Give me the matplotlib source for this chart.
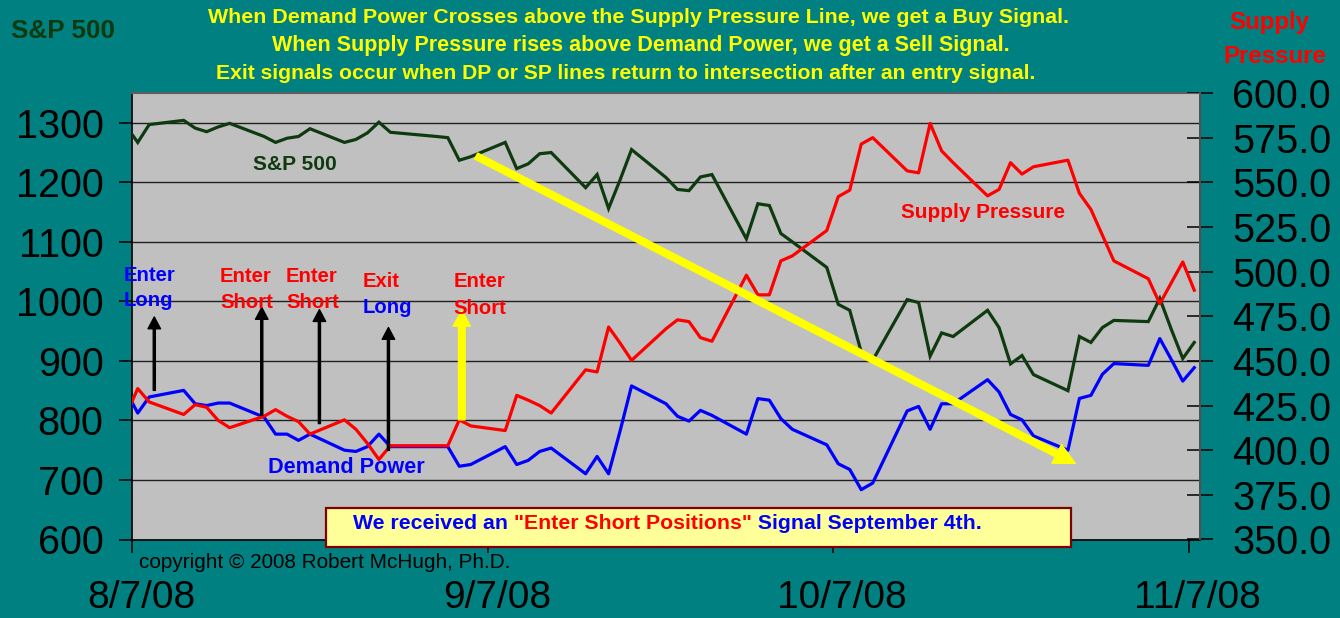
import matplotlib
matplotlib.use("Agg")
import matplotlib.pyplot as plt
import matplotlib.dates as mdates
import matplotlib.transforms as mtransforms
from matplotlib.patches import Rectangle
import pandas as pd

# ---------------- data ----------------
dates = [
    "2008-08-06", "2008-08-07", "2008-08-08", "2008-08-11", "2008-08-12", "2008-08-13",
    "2008-08-14", "2008-08-15", "2008-08-18", "2008-08-19", "2008-08-20", "2008-08-21",
    "2008-08-22", "2008-08-25", "2008-08-26", "2008-08-27", "2008-08-28", "2008-08-29",
    "2008-09-02", "2008-09-03", "2008-09-04", "2008-09-05", "2008-09-08", "2008-09-09",
    "2008-09-10", "2008-09-11", "2008-09-12", "2008-09-15", "2008-09-16", "2008-09-17",
    "2008-09-18", "2008-09-19", "2008-09-22", "2008-09-23", "2008-09-24", "2008-09-25",
    "2008-09-26", "2008-09-29", "2008-09-30",
    "2008-10-01", "2008-10-02", "2008-10-03", "2008-10-06", "2008-10-07", "2008-10-08",
    "2008-10-09", "2008-10-10", "2008-10-13", "2008-10-14", "2008-10-15", "2008-10-16",
    "2008-10-17", "2008-10-20", "2008-10-21", "2008-10-22", "2008-10-23", "2008-10-24",
    "2008-10-27", "2008-10-28", "2008-10-29", "2008-10-30", "2008-10-31",
    "2008-11-03", "2008-11-04", "2008-11-05", "2008-11-06", "2008-11-07",
]

sp500 = [
    1294, 1267, 1297, 1304, 1291, 1285, 1293, 1299, 1277, 1267, 1274, 1277, 1290, 1267,
    1272, 1283, 1301, 1284,
    1277, 1275, 1237, 1243, 1267, 1223, 1231, 1248, 1250, 1191, 1213, 1156, 1204, 1255,
    1208, 1188, 1186, 1209, 1213, 1105, 1164,
    1161, 1114, 1100, 1057, 995, 985, 915, 901, 1003, 998, 908, 947, 941, 985, 956, 895,
    909, 877, 850, 941, 931, 956, 968,
    966, 1005, 953, 904, 931,
]

supply_pressure = [
    420, 434.5, 427, 420, 425.5, 424, 416.7, 412.6, 419, 422.7, 419, 416, 409, 417,
    411.7, 403.8, 394.8, 402.5,
    402.5, 402.5, 417, 413.6, 411, 430.7, 428, 425, 420.8, 445, 443.8, 469, 460, 450.3,
    468, 473, 472, 463, 461, 498, 487,
    487, 506, 508.8, 523, 542, 545.6, 571.4, 575, 556.4, 555.3, 583, 567.6, 561, 542.4,
    546, 561, 554.6, 558.7, 562.4, 543.8, 534.8, 520.4, 506,
    496, 482, 493.7, 505.4, 489.6,
]

demand_power = [
    433, 420.8, 429.8, 433.5, 426, 425, 426.4, 426.4, 418.5, 409, 409, 405.5, 409, 400,
    399.3, 402, 409, 402,
    402, 402, 391, 392, 402, 392, 394.3, 399.3, 401.2, 386.8, 396.5, 386.8, 410.7, 436,
    426, 419, 416.3, 422.3, 419.5, 409, 428.9,
    428, 417.7, 411.7, 403, 392.4, 389.2, 377.9, 381.6, 422, 424.5, 411.7, 426, 426,
    439.5, 432.6, 420, 417, 408, 400, 429, 430.7, 442.5, 448.5,
    447.5, 462.5, 450.8, 438.7, 446.2,
]

date_ticks = ["2008-08-07", "2008-09-07", "2008-10-07", "2008-11-07"]
date_tick_labels = ["8/7/08", "9/7/08", "10/7/08", "11/7/08"]
sp_ticks = [600, 700, 800, 900, 1000, 1100, 1200, 1300]
pressure_ticks = [350, 375, 400, 425, 450, 475, 500, 525, 550, 575, 600]

# signal arrows: (days after 8/7/08, tail value, tip value) on the pressure scale
signal_arrows = [(1.94, 433.5, 474.6), (11.30, 419.5, 479.9),
                 (16.32, 414.9, 478.7), (22.33, 399.9, 468.7)]
sell_arrow = (28.72, 417.0, 478.4)
trend_arrow = ((29.97, 564.7), (82.14, 392.6))

# ---------------- style ----------------
FONT = "Liberation Sans"
plt.rcParams["font.family"] = [FONT, "DejaVu Sans"]
TEAL = "#008080"
GRAY = "#C0C0C0"
DKGREEN = "#0F3A0F"
RED = "#FF0000"
BLUE = "#0000FF"
YELLOW = "#FFFF00"

W, H = 1340, 618
fig = plt.figure(figsize=(W / 100, H / 100), dpi=100, facecolor=TEAL)
pix = mtransforms.Affine2D().scale(1, -1).translate(0, H)

x0p, x1p, y0p, y1p = 132, 1200, 539.5, 93
ax = fig.add_axes([x0p / W, (H - y0p) / H, (x1p - x0p) / W, (y0p - y1p) / H])
ax.set_facecolor(GRAY)
ax2 = ax.twinx()

base = mdates.date2num(pd.Timestamp("2008-08-07"))
xs = mdates.date2num(pd.to_datetime(dates)) + 0.5

ax.plot(xs, sp500, color=DKGREEN, lw=2.3, zorder=3, solid_joinstyle="miter")
ax2.plot(xs, demand_power, color=BLUE, lw=2.3, zorder=3)
ax2.plot(xs, supply_pressure, color=RED, lw=2.3, zorder=4)

ax.set_xlim(base, base + 93)
ax.set_ylim(600, 1350)
ax2.set_ylim(350, 600)

ax.set_yticks(sp_ticks)
ax.set_yticklabels([str(v) for v in sp_ticks])
ax2.set_yticks(pressure_ticks)
ax2.set_yticklabels([f"{v:.1f}" for v in pressure_ticks])
ax.set_xticks(mdates.date2num(pd.to_datetime(date_ticks)))
ax.set_xticklabels(date_tick_labels)

ax.yaxis.grid(True, color="#202020", lw=1.0)
ax.set_axisbelow(True)

ax.tick_params(axis="y", direction="out", length=9.5, width=1.1, pad=11,
               labelsize=28.5, colors="black")
ax.tick_params(axis="x", direction="out", length=9.5, width=1.1, pad=19.5,
               labelsize=28, colors="black")
ax2.tick_params(axis="y", direction="inout", length=18.5, width=1.1, pad=14,
                labelsize=28.5, colors="black")
for lbl in ax.get_xticklabels():
    lbl.set_transform(lbl.get_transform() +
                      mtransforms.ScaledTranslation(9 / 100, 0, fig.dpi_scale_trans))

for sp in ("left", "bottom"):
    ax.spines[sp].set_color("black")
    ax.spines[sp].set_linewidth(1.2)
for sp in ("top", "right"):
    ax.spines[sp].set_color("#606060")
    ax.spines[sp].set_linewidth(1.4)
ax2.spines["right"].set_color("#505050")
ax2.spines["right"].set_linewidth(1.4)
ax2.spines["top"].set_color("#606060")
ax2.spines["left"].set_visible(False)
ax2.spines["bottom"].set_visible(False)

# ---------------- arrows ----------------
for d, tail, tip in signal_arrows:
    ax2.annotate("", xy=(base + d, tip), xytext=(base + d, tail),
                 arrowprops=dict(width=1.5, headwidth=9, headlength=8.5,
                                 facecolor="black", edgecolor="black", shrink=0),
                 zorder=6)
d, tail, tip = sell_arrow
ax2.annotate("", xy=(base + d, tip), xytext=(base + d, tail),
             arrowprops=dict(width=4.8, headwidth=12.5, headlength=11.5,
                             facecolor=YELLOW, edgecolor=YELLOW, shrink=0),
             zorder=6)
(ta, va), (tb, vb) = trend_arrow
ax2.annotate("", xy=(base + tb, vb), xytext=(base + ta, va),
             arrowprops=dict(width=4.8, headwidth=15, headlength=15,
                             facecolor=YELLOW, edgecolor=YELLOW, shrink=0),
             zorder=7)

# ---------------- texts ----------------
fig.canvas.draw()
renderer = fig.canvas.get_renderer()


def put(s, x, baseline, color, width=None, size=None, weight="bold", z=12):
    t = fig.text(x, baseline, s, transform=pix, color=color,
                 fontsize=size if size else 10, fontweight=weight,
                 ha="left", va="baseline", zorder=z)
    if width is not None:
        w = t.get_window_extent(renderer).width
        t.set_fontsize(10 * width / w)
    return t


def fit_size(s, width, weight="bold"):
    t = fig.text(0, 0, s, fontsize=10, fontweight=weight)
    w = t.get_window_extent(renderer).width
    t.remove()
    return 10 * width / w


# title
put("When Demand Power Crosses above the Supply Pressure Line, we get a Buy Signal.",
    208, 23.3, YELLOW, width=858)
put("When Supply Pressure rises above Demand Power, we get a Sell Signal.",
    272, 51.2, YELLOW, width=740)
put("Exit signals occur when DP or SP lines return to intersection after an entry signal.",
    216, 79, YELLOW, width=824)

put("S&P 500", 10.7, 37.7, DKGREEN, width=104)
put("Supply", 1229.3, 29.5, RED, width=80)
put("Pressure", 1223.3, 63.3, RED, width=103)

put("copyright \u00a9 2008 Robert McHugh, Ph.D.", 139.3, 568, "black",
    width=373, weight="normal")

# series labels inside plot
put("S&P 500", 253.3, 170, DKGREEN, width=84)
put("Demand Power", 268.3, 473.3, BLUE, width=156)
put("Supply Pressure", 901, 217.7, RED, width=164)

# signal labels
sz = fit_size("Enter", 52)
put("Enter", 124, 280.7, BLUE, size=sz)
put("Long", 124, 306.4, BLUE, size=sz)
put("Enter", 220, 281.5, RED, size=sz)
put("Short", 220, 308.3, RED, size=sz)
put("Enter", 286, 281.5, RED, size=sz)
put("Short", 286, 308.3, RED, size=sz)
put("Exit", 362.3, 287.3, RED, size=sz)
put("Long", 362.3, 313, BLUE, size=sz)
put("Enter", 454, 287.3, RED, size=sz)
put("Short", 453.5, 314.3, RED, size=sz)

# message box
box = Rectangle((326, 508.3), 1070.5 - 326, 546.7 - 508.3, transform=pix,
                facecolor="#FFFF99", edgecolor="#800000", lw=1.6, zorder=10)
fig.add_artist(box)
segs = [("We received an ", BLUE), ('"Enter Short Positions"', RED),
        (" Signal September 4th.", BLUE)]
bsz = fit_size("".join(s for s, _ in segs), 629)
xcur = 353
for s, c in segs:
    t = put(s, xcur, 529, c, size=bsz)
    xcur += t.get_window_extent(renderer).width

fig.savefig("out.png", dpi=100, facecolor=TEAL)
